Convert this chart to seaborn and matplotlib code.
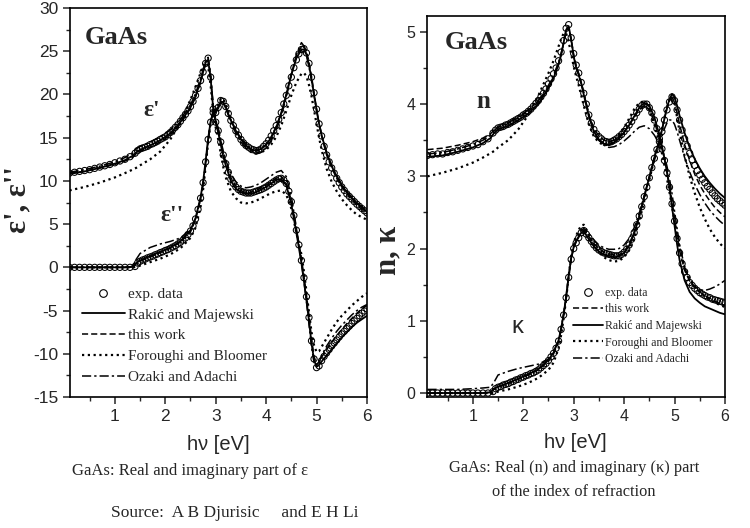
import matplotlib
matplotlib.use("Agg")
import matplotlib.pyplot as plt
import seaborn as sns
from matplotlib.lines import Line2D
from matplotlib.ticker import MultipleLocator

# photon energy grid for the model curves [eV]
ENERGY = [0.1, 0.4, 0.7, 1.0, 1.2, 1.35, 1.42, 1.5, 1.7, 1.9, 2.1, 2.3, 2.5, 2.6, 2.7, 2.75,
          2.8, 2.85, 2.9, 2.95, 3.0, 3.05, 3.1, 3.15, 3.2, 3.3, 3.4, 3.5, 3.6, 3.7, 3.8, 3.9,
          4.0, 4.1, 4.2, 4.3, 4.4, 4.5, 4.6, 4.7, 4.75, 4.8, 4.85, 4.9, 4.95, 5.0, 5.05, 5.1,
          5.2, 5.3, 5.4, 5.5, 5.6, 5.7, 5.8, 5.9, 6.0]

# photon energy grid for the measured points [eV]
ENERGY_EXP = [0.1, 0.2, 0.3, 0.4, 0.5, 0.6, 0.7, 0.8, 0.9, 1.0, 1.1, 1.2, 1.3, 1.4,
              1.45, 1.5, 1.55, 1.6, 1.65, 1.7, 1.75, 1.8, 1.85, 1.9, 1.95, 2.0, 2.05, 2.1, 2.15, 2.2,
              2.25, 2.3, 2.35, 2.4, 2.45, 2.5, 2.55, 2.6, 2.65, 2.7, 2.75, 2.8, 2.85, 2.9, 2.95, 3.0,
              3.05, 3.1, 3.15, 3.2, 3.25, 3.3, 3.35, 3.4, 3.45, 3.5, 3.55, 3.6, 3.65, 3.7, 3.75, 3.8,
              3.85, 3.9, 3.95, 4.0, 4.05, 4.1, 4.15, 4.2, 4.25, 4.3, 4.35, 4.4, 4.45, 4.5, 4.55, 4.6,
              4.65, 4.7, 4.75, 4.8, 4.85, 4.9, 4.95, 5.0, 5.05, 5.1, 5.15, 5.2, 5.25, 5.3, 5.35, 5.4,
              5.45, 5.5, 5.55, 5.6, 5.65, 5.7, 5.75, 5.8, 5.85, 5.9, 5.95, 6.0]

# epsilon' (real part)
EPS1_EXP = [10.9, 11.0, 11.1, 11.2, 11.3, 11.45, 11.6, 11.75, 11.9, 12.1, 12.3, 12.5, 12.8, 13.2,
            13.5, 13.7, 13.8, 13.9, 14.0, 14.2, 14.3, 14.45, 14.6, 14.8, 14.95, 15.1, 15.35, 15.6, 15.9, 16.2,
            16.5, 16.9, 17.3, 17.7, 18.1, 18.6, 19.2, 19.9, 20.7, 21.6, 22.6, 23.6, 24.2, 22.0, 18.3, 16.8,
            15.8, 14.5, 13.0, 12.0, 11.0, 10.2, 9.7, 9.3, 9.0, 8.8, 8.7, 8.6, 8.6, 8.6, 8.7, 8.8,
            8.9, 9.0, 9.15, 9.3, 9.5, 9.7, 9.9, 10.1, 10.25, 10.3, 10.1, 9.7, 8.8, 7.6, 6.0, 4.3,
            2.6, 0.8, -1.2, -3.4, -5.8, -8.5, -10.6, -11.6, -11.4, -10.8, -10.3, -9.9, -9.5, -9.1, -8.75, -8.4,
            -8.05, -7.7, -7.4, -7.1, -6.8, -6.5, -6.2, -5.9, -5.6, -5.3, -5.05, -4.8]
EPS1_RM = [10.8, 11.1, 11.5, 12.0, 12.4, 12.9, 13.3, 13.6, 14.1, 14.7, 15.5, 16.8, 18.5, 19.8, 21.5, 22.6,
           23.7, 24.0, 21.8, 18.4, 16.7, 15.6, 14.2, 12.8, 11.8, 10.0, 9.1, 8.7, 8.5, 8.5, 8.7, 9.0,
           9.3, 9.7, 10.1, 10.2, 9.5, 7.3, 4.0, 0.5, -1.6, -3.8, -6.2, -8.8, -10.7, -11.5, -11.3, -10.9,
           -10.2, -9.5, -8.8, -8.1, -7.5, -6.9, -6.4, -6.0, -5.6]
EPS1_TW = [10.9, 11.1, 11.5, 11.9, 12.3, 12.7, 13.1, 13.4, 13.9, 14.5, 15.3, 16.6, 18.4, 19.7, 21.4, 22.5,
           23.5, 24.0, 22.2, 18.6, 17.0, 16.0, 14.7, 13.2, 12.2, 10.4, 9.4, 8.9, 8.6, 8.7, 8.9, 9.2,
           9.5, 9.9, 10.3, 10.5, 9.8, 7.7, 4.5, 1.0, -1.0, -3.2, -5.6, -8.2, -10.3, -11.2, -11.0, -10.4,
           -9.5, -8.7, -7.9, -7.2, -6.5, -5.9, -5.3, -4.8, -4.4]
EPS1_FB = [8.9, 9.3, 9.8, 10.4, 10.9, 11.3, 11.5, 11.8, 12.5, 13.4, 14.8, 16.8, 19.4, 20.9, 22.5, 23.3,
           23.7, 23.3, 21.0, 18.0, 16.2, 14.8, 13.2, 11.6, 10.4, 8.8, 8.0, 7.5, 7.4, 7.5, 7.7, 8.0,
           8.3, 8.6, 8.8, 8.9, 8.4, 6.8, 4.0, 1.5, -0.5, -2.8, -5.2, -7.5, -9.0, -9.8, -9.7, -9.2,
           -8.2, -7.2, -6.3, -5.6, -5.0, -4.4, -3.9, -3.4, -3.0]
EPS1_OA = [11.0, 11.3, 11.7, 12.2, 12.7, 13.2, 13.7, 14.0, 14.5, 15.1, 15.9, 17.1, 18.8, 20.1, 21.8, 22.9,
           23.9, 24.3, 22.4, 18.7, 17.1, 16.1, 14.8, 13.4, 12.4, 10.8, 9.9, 9.4, 9.2, 9.3, 9.5, 9.8,
           10.2, 10.6, 11.0, 11.2, 10.5, 8.2, 4.6, 0.6, -1.6, -4.0, -6.6, -9.2, -11.0, -11.5, -11.0, -10.2,
           -9.1, -8.2, -7.4, -6.7, -6.1, -5.5, -5.0, -4.6, -4.3]

# epsilon'' (imaginary part)
EPS2_EXP = [0, 0, 0, 0, 0, 0, 0, 0, 0, 0, 0, 0, 0, 0.1,
            0.5, 0.7, 0.85, 0.95, 1.1, 1.2, 1.3, 1.45, 1.55, 1.7, 1.8, 1.95, 2.05, 2.2, 2.35, 2.5,
            2.7, 2.9, 3.15, 3.4, 3.8, 4.2, 4.8, 5.6, 6.7, 8.0, 9.8, 12.2, 14.8, 16.8, 17.9, 17.9,
            18.5, 19.3, 19.2, 18.6, 17.8, 17.0, 16.4, 15.8, 15.3, 14.8, 14.4, 14.1, 13.9, 13.7, 13.6, 13.5,
            13.55, 13.7, 14.0, 14.3, 14.7, 15.2, 15.8, 16.4, 17.1, 17.9, 18.9, 19.9, 21.0, 22.0, 23.1, 24.0,
            24.7, 25.2, 25.3, 24.8, 23.6, 22.0, 20.2, 18.3, 16.6, 15.2, 14.0, 13.0, 12.2, 11.5, 10.9, 10.3,
            9.8, 9.3, 8.9, 8.5, 8.2, 7.9, 7.6, 7.3, 7.05, 6.8, 6.55, 6.3]
EPS2_RM = [0, 0, 0, 0, 0, 0.05, 0.5, 0.8, 1.3, 1.8, 2.3, 3.0, 4.3, 5.7, 8.1, 9.9,
           12.3, 14.9, 16.9, 17.9, 17.9, 18.4, 19.1, 19.1, 18.5, 17.0, 15.8, 14.8, 14.1, 13.6, 13.5, 13.7,
           14.2, 15.0, 16.2, 17.8, 20.0, 22.3, 24.2, 25.2, 25.2, 24.6, 23.4, 21.8, 20.0, 18.2, 16.6, 15.3,
           13.2, 11.7, 10.5, 9.5, 8.7, 8.0, 7.4, 6.9, 6.4]
EPS2_TW = [0, 0, 0, 0, 0, 0.05, 0.4, 0.7, 1.2, 1.7, 2.2, 2.9, 4.1, 5.5, 7.9, 9.7,
           12.0, 14.6, 16.8, 17.9, 18.1, 18.6, 19.2, 19.1, 18.6, 17.1, 15.9, 14.9, 14.2, 13.7, 13.5, 13.7,
           14.2, 15.1, 16.3, 17.9, 20.0, 22.4, 24.4, 25.6, 25.6, 25.0, 23.8, 22.1, 20.2, 18.3, 16.6, 15.2,
           13.0, 11.5, 10.3, 9.3, 8.5, 7.8, 7.2, 6.7, 6.2]
EPS2_FB = [0, 0, 0, 0, 0, 0, 0.05, 0.2, 0.6, 1.0, 1.5, 2.2, 3.4, 4.6, 7.0, 9.0,
           11.6, 14.5, 16.8, 18.0, 18.2, 18.8, 19.5, 19.5, 18.9, 17.3, 16.0, 15.0, 14.2, 13.6, 13.3, 13.3,
           13.6, 14.2, 15.1, 16.4, 18.1, 19.9, 21.4, 22.4, 22.5, 22.1, 21.1, 19.8, 18.2, 16.6, 15.0, 13.6,
           11.4, 9.9, 8.8, 7.9, 7.2, 6.6, 6.1, 5.8, 5.5]
EPS2_OA = [0, 0, 0, 0, 0, 0.1, 0.9, 1.6, 2.3, 2.7, 3.0, 3.4, 4.4, 5.6, 7.9, 9.6,
           12.0, 14.6, 16.9, 18.0, 18.0, 18.5, 19.2, 19.1, 18.4, 16.8, 15.5, 14.5, 13.8, 13.3, 13.1, 13.3,
           13.8, 14.7, 15.9, 17.5, 19.7, 22.2, 24.6, 26.0, 25.6, 24.6, 23.2, 21.6, 19.9, 18.2, 16.7, 15.4,
           13.3, 11.8, 10.6, 9.6, 8.8, 8.1, 7.5, 7.0, 6.5]

# refractive index n
N_EXP = [3.29, 3.30, 3.31, 3.31, 3.33, 3.34, 3.36, 3.38, 3.40, 3.42, 3.44, 3.48, 3.52, 3.60,
         3.64, 3.67, 3.68, 3.69, 3.71, 3.72, 3.74, 3.76, 3.78, 3.80, 3.82, 3.85, 3.87, 3.90, 3.93, 3.97,
         4.01, 4.05, 4.10, 4.15, 4.21, 4.28, 4.35, 4.42, 4.50, 4.60, 4.72, 4.88, 5.05, 5.10, 4.92, 4.70,
         4.54, 4.43, 4.30, 4.15, 4.00, 3.85, 3.74, 3.65, 3.59, 3.55, 3.52, 3.49, 3.48, 3.47, 3.48, 3.50,
         3.52, 3.55, 3.58, 3.62, 3.66, 3.71, 3.76, 3.82, 3.88, 3.93, 3.98, 4.00, 4.00, 3.95, 3.88, 3.78,
         3.66, 3.52, 3.38, 3.22, 3.05, 2.85, 2.62, 2.38, 2.14, 1.94, 1.79, 1.68, 1.60, 1.53, 1.49, 1.45,
         1.42, 1.39, 1.37, 1.35, 1.33, 1.32, 1.30, 1.29, 1.28, 1.27, 1.26, 1.25]
N_TW = [3.37, 3.39, 3.43, 3.48, 3.53, 3.59, 3.64, 3.68, 3.73, 3.81, 3.90, 4.03, 4.24, 4.38, 4.56, 4.68,
        4.84, 5.00, 5.06, 4.90, 4.68, 4.53, 4.42, 4.30, 4.15, 3.86, 3.66, 3.56, 3.50, 3.48, 3.50, 3.55,
        3.62, 3.71, 3.82, 3.92, 3.98, 3.92, 3.76, 3.52, 3.39, 3.24, 3.07, 2.88, 2.66, 2.42, 2.18, 1.97,
        1.70, 1.55, 1.46, 1.40, 1.35, 1.31, 1.27, 1.24, 1.21]
N_RM = [3.27, 3.29, 3.34, 3.40, 3.46, 3.53, 3.60, 3.65, 3.70, 3.78, 3.87, 4.00, 4.22, 4.36, 4.55, 4.68,
        4.85, 5.03, 5.08, 4.90, 4.66, 4.50, 4.40, 4.28, 4.13, 3.83, 3.62, 3.51, 3.45, 3.44, 3.47, 3.53,
        3.61, 3.71, 3.83, 3.95, 4.02, 3.98, 3.82, 3.57, 3.42, 3.25, 3.06, 2.84, 2.58, 2.32, 2.06, 1.84,
        1.56, 1.40, 1.31, 1.25, 1.20, 1.17, 1.14, 1.11, 1.09]
N_FB = [3.00, 3.05, 3.11, 3.19, 3.26, 3.32, 3.35, 3.40, 3.50, 3.65, 3.85, 4.12, 4.43, 4.60, 4.80, 4.90,
        4.98, 4.98, 4.86, 4.70, 4.52, 4.38, 4.26, 4.12, 3.98, 3.72, 3.55, 3.47, 3.43, 3.44, 3.49, 3.57,
        3.68, 3.80, 3.93, 4.02, 4.04, 3.93, 3.72, 3.47, 3.32, 3.15, 2.97, 2.78, 2.58, 2.38, 2.18, 2.00,
        1.74, 1.58, 1.48, 1.40, 1.34, 1.29, 1.25, 1.22, 1.19]
N_OA = [3.31, 3.33, 3.38, 3.44, 3.50, 3.57, 3.63, 3.68, 3.74, 3.82, 3.92, 4.05, 4.26, 4.40, 4.58, 4.70,
        4.86, 5.02, 5.05, 4.88, 4.66, 4.52, 4.42, 4.30, 4.16, 3.86, 3.63, 3.50, 3.43, 3.40, 3.41, 3.44,
        3.49, 3.55, 3.62, 3.68, 3.70, 3.66, 3.57, 3.45, 3.38, 3.28, 3.14, 2.97, 2.76, 2.52, 2.28, 2.06,
        1.74, 1.56, 1.47, 1.43, 1.42, 1.44, 1.47, 1.51, 1.56]

# extinction coefficient kappa
K_EXP = [0, 0, 0, 0, 0, 0, 0, 0, 0, 0, 0, 0, 0, 0.02,
         0.06, 0.08, 0.09, 0.11, 0.12, 0.13, 0.15, 0.16, 0.18, 0.19, 0.21, 0.22, 0.24, 0.25, 0.27, 0.28,
         0.30, 0.32, 0.35, 0.38, 0.41, 0.45, 0.50, 0.55, 0.62, 0.72, 0.88, 1.08, 1.32, 1.60, 1.85, 2.00,
         2.08, 2.15, 2.22, 2.25, 2.20, 2.15, 2.10, 2.05, 2.01, 1.98, 1.96, 1.94, 1.93, 1.92, 1.91, 1.90,
         1.90, 1.90, 1.92, 1.95, 1.99, 2.05, 2.13, 2.22, 2.33, 2.45, 2.58, 2.72, 2.85, 2.98, 3.12, 3.25,
         3.37, 3.48, 3.62, 3.78, 3.92, 4.03, 4.10, 4.05, 3.92, 3.78, 3.64, 3.52, 3.42, 3.32, 3.23, 3.15,
         3.08, 3.02, 2.96, 2.91, 2.86, 2.82, 2.77, 2.73, 2.69, 2.66, 2.63, 2.60]
K_TW = [0, 0, 0, 0, 0, 0.01, 0.05, 0.08, 0.13, 0.19, 0.25, 0.32, 0.44, 0.54, 0.71, 0.87,
        1.07, 1.31, 1.60, 1.85, 2.01, 2.10, 2.17, 2.23, 2.26, 2.17, 2.07, 2.00, 1.95, 1.93, 1.91, 1.91,
        1.96, 2.06, 2.23, 2.46, 2.73, 3.00, 3.27, 3.50, 3.64, 3.80, 3.94, 4.05, 4.10, 4.02, 3.88, 3.72,
        3.44, 3.22, 3.03, 2.88, 2.76, 2.66, 2.57, 2.50, 2.44]
K_RM = [0, 0, 0, 0, 0, 0.01, 0.06, 0.09, 0.14, 0.20, 0.26, 0.33, 0.46, 0.56, 0.73, 0.89,
        1.09, 1.33, 1.62, 1.87, 2.02, 2.10, 2.16, 2.22, 2.24, 2.13, 2.03, 1.96, 1.92, 1.90, 1.88, 1.89,
        1.94, 2.04, 2.21, 2.44, 2.72, 2.99, 3.26, 3.50, 3.64, 3.80, 3.95, 4.07, 4.14, 4.10, 3.98, 3.84,
        3.60, 3.40, 3.24, 3.11, 3.00, 2.91, 2.83, 2.76, 2.70]
K_FB = [0, 0, 0, 0, 0, 0, 0.0, 0.02, 0.05, 0.09, 0.14, 0.21, 0.32, 0.42, 0.62, 0.80,
        1.03, 1.30, 1.62, 1.90, 2.08, 2.18, 2.26, 2.32, 2.33, 2.20, 2.05, 1.95, 1.88, 1.84, 1.82, 1.83,
        1.88, 1.98, 2.15, 2.38, 2.66, 2.95, 3.24, 3.50, 3.65, 3.81, 3.96, 4.06, 4.10, 4.00, 3.82, 3.62,
        3.28, 3.00, 2.77, 2.57, 2.41, 2.27, 2.16, 2.07, 2.00]
K_OA = [0.05, 0.05, 0.05, 0.06, 0.07, 0.08, 0.15, 0.25, 0.30, 0.34, 0.37, 0.40, 0.47, 0.57, 0.74, 0.90,
        1.10, 1.34, 1.63, 1.87, 2.03, 2.12, 2.19, 2.25, 2.28, 2.21, 2.12, 2.05, 2.01, 1.99, 1.99, 2.00,
        2.05, 2.14, 2.29, 2.49, 2.73, 2.98, 3.22, 3.44, 3.55, 3.66, 3.74, 3.78, 3.78, 3.72, 3.62, 3.50,
        3.26, 3.06, 2.89, 2.75, 2.63, 2.53, 2.45, 2.38, 2.32]

LABEL_EXP = "exp. data"
LABEL_RM = "Rakić and Majewski"
LABEL_TW = "this work"
LABEL_FB = "Foroughi and Bloomer"
LABEL_OA = "Ozaki and Adachi"

STYLES = {
    LABEL_RM: dict(linestyle="-", linewidth=1.3),
    LABEL_TW: dict(linestyle=(0, (4, 2)), linewidth=1.1),
    LABEL_FB: dict(linestyle=(0, (1, 1.6)), linewidth=1.6),
    LABEL_OA: dict(linestyle=(0, (6, 2, 1.5, 2)), linewidth=1.1),
}

SERIF = ["Liberation Serif", "DejaVu Serif"]
SANS = ["Liberation Sans", "DejaVu Sans"]


def draw_panel(ax, exp, models):
    for label, values in models:
        sns.lineplot(x=ENERGY, y=values, ax=ax, color="black", sort=False, **STYLES[label])
    sns.scatterplot(x=ENERGY_EXP, y=exp, ax=ax, marker="o", s=20, facecolor="none",
                    edgecolor="black", linewidth=0.75, zorder=5)


def style_axes(ax, xlim, ylim, ymajor, yminor):
    ax.set_xlim(*xlim)
    ax.set_ylim(*ylim)
    ax.xaxis.set_major_locator(MultipleLocator(1))
    ax.xaxis.set_minor_locator(MultipleLocator(0.5))
    ax.yaxis.set_major_locator(MultipleLocator(ymajor))
    ax.yaxis.set_minor_locator(MultipleLocator(yminor))
    ax.tick_params(which="major", length=5, width=1.1, direction="out")
    ax.tick_params(which="minor", length=3, width=1.0, direction="out")
    for sp in ax.spines.values():
        sp.set_visible(True)
        sp.set_linewidth(1.2)
        sp.set_color("black")
    for lab in ax.get_xticklabels() + ax.get_yticklabels():
        lab.set_family(SANS)


def legend_handles(order):
    handles = []
    for label in order:
        if label == LABEL_EXP:
            handles.append(Line2D([], [], linestyle="none", marker="o", markersize=5.5,
                                  markerfacecolor="none", markeredgecolor="black",
                                  markeredgewidth=0.8, label=label))
        else:
            handles.append(Line2D([], [], color="black", label=label, **STYLES[label]))
    return handles


sns.set_theme(style="ticks")
plt.rcParams["font.family"] = SANS
plt.rcParams["axes.edgecolor"] = "black"
plt.rcParams["axes.unicode_minus"] = False

fig = plt.figure(figsize=(7.5, 5.28), dpi=100)
ax1 = fig.add_axes([0.0933, 0.2481, 0.396, 0.7367])
ax2 = fig.add_axes([0.5693, 0.2481, 0.3973, 0.7216])

# left panel: dielectric function
draw_panel(ax1, EPS1_EXP, [(LABEL_OA, EPS1_OA), (LABEL_FB, EPS1_FB), (LABEL_TW, EPS1_TW), (LABEL_RM, EPS1_RM)])
draw_panel(ax1, EPS2_EXP, [(LABEL_OA, EPS2_OA), (LABEL_FB, EPS2_FB), (LABEL_TW, EPS2_TW), (LABEL_RM, EPS2_RM)])
style_axes(ax1, (0.11, 6.0), (-15, 30), 5, 2.5)
ax1.tick_params(labelsize=12.5)
ax1.set_xlabel("")
ax1.set_ylabel("")
ax1.legend(handles=legend_handles([LABEL_EXP, LABEL_RM, LABEL_TW, LABEL_FB, LABEL_OA]),
           loc="lower left", bbox_to_anchor=(0.02, 0.018), frameon=False,
           prop={"family": SERIF, "size": 11}, handlelength=2.8, handletextpad=0.2,
           labelspacing=0.46, borderaxespad=0)
ax1.text(0.05, 0.955, "GaAs", transform=ax1.transAxes, family=SERIF, weight="bold",
         fontsize=19, va="top", ha="left")
ax1.text(1.74, 18.2, "ε'", family=SERIF, weight="bold", fontsize=17, ha="center", va="center")
ax1.text(2.13, 6.0, "ε''", family=SERIF, weight="bold", fontsize=17, ha="center", va="center")

# right panel: refractive index
draw_panel(ax2, N_EXP, [(LABEL_OA, N_OA), (LABEL_FB, N_FB), (LABEL_TW, N_TW), (LABEL_RM, N_RM)])
draw_panel(ax2, K_EXP, [(LABEL_OA, K_OA), (LABEL_FB, K_FB), (LABEL_TW, K_TW), (LABEL_RM, K_RM)])
style_axes(ax2, (0.09, 6.0), (-0.055, 5.22), 1, 0.5)
ax2.tick_params(labelsize=11.5)
ax2.set_xlabel("")
ax2.set_ylabel("")
ax2.legend(handles=legend_handles([LABEL_EXP, LABEL_TW, LABEL_RM, LABEL_FB, LABEL_OA]),
           loc="lower left", bbox_to_anchor=(0.473, 0.071), frameon=False,
           prop={"family": SERIF, "size": 8.5}, handlelength=2.6, handletextpad=0.1,
           labelspacing=0.39, borderaxespad=0)
ax2.text(0.06, 0.96, "GaAs", transform=ax2.transAxes, family=SERIF, weight="bold",
         fontsize=19, va="top", ha="left")
ax2.text(1.2, 4.04, "n", family=SERIF, weight="bold", fontsize=18, ha="center", va="center")
ax2.text(1.89, 0.91, "κ", family=SANS, fontsize=17, ha="center", va="center")

# axis titles and captions
fig.text(18 / 750, 1 - 200 / 528, "ε', ε''", rotation=90, family=SERIF, weight="bold",
         fontsize=22, ha="center", va="center")
fig.text(388 / 750, 1 - 250 / 528, "n, κ", rotation=90, family=SERIF, weight="bold",
         fontsize=22, ha="center", va="center")
fig.text(218 / 750, 1 - 444 / 528, "hν [eV]", family=SANS, fontsize=14.5, ha="center", va="center")
fig.text(575 / 750, 1 - 443 / 528, "hν [eV]", family=SANS, fontsize=14.5, ha="center", va="center")
fig.text(190 / 750, 1 - 471 / 528, "GaAs: Real and imaginary part of ε", family=SERIF,
         fontsize=12, ha="center", va="center")
fig.text(235 / 750, 1 - 513 / 528, "Source:  A B Djurisic     and E H Li", family=SERIF,
         fontsize=12.5, ha="center", va="center")
fig.text(574 / 750, 1 - 468 / 528, "GaAs: Real (n) and imaginary (κ) part", family=SERIF,
         fontsize=11.8, ha="center", va="center")
fig.text(574 / 750, 1 - 492 / 528, "of the index of refraction", family=SERIF,
         fontsize=11.8, ha="center", va="center")

fig.savefig("out.png", dpi=100)
